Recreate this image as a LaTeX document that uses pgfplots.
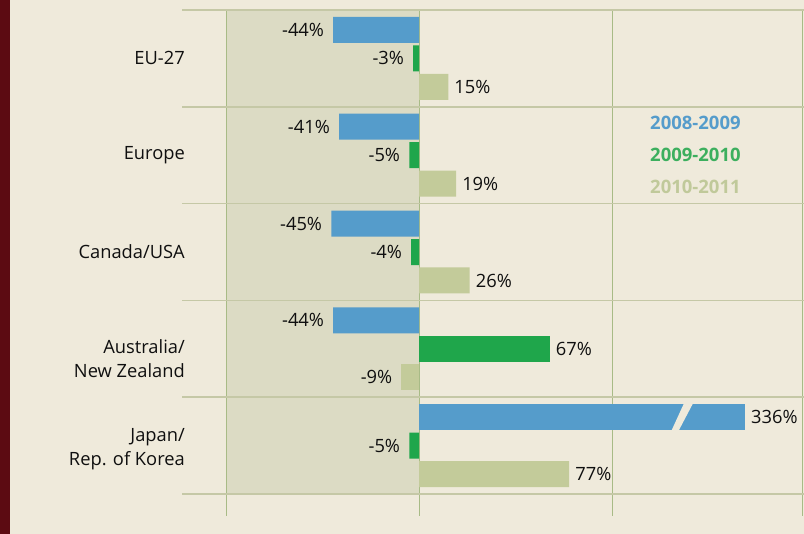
\documentclass[border=0pt]{standalone}
\usepackage{fontspec}
\setmainfont{Open Sans}
\usepackage{pgfplots}
\pgfplotsset{compat=1.18}
\definecolor{bg}{HTML}{EFEADB}
\definecolor{strip}{HTML}{5C0B12}
\definecolor{shade}{HTML}{DCDBC4}
\definecolor{vgrid}{HTML}{A8BB86}
\definecolor{hgrid}{HTML}{C5C8A6}
\definecolor{cblue}{HTML}{559CCB}
\definecolor{cgreen}{HTML}{1FA64B}
\definecolor{ctan}{HTML}{C3CB9A}
\definecolor{lgreen}{HTML}{3CAF5E}
\definecolor{ltan}{HTML}{C0C99A}
\definecolor{txt}{HTML}{0F0F0F}
\pgfplotsset{
  layers/mylayers/.define layer set={
    picbg,axis background,axis grid,axis ticks,axis lines,axis tick labels,main,axis descriptions,axis foreground
  }{},
  neg/.style={xbar, bar shift=0pt, bar width=26pt, draw=none, every node near coord/.append style={anchor=east, inner xsep=9pt}},
  pos/.style={xbar, bar shift=0pt, bar width=26pt, draw=none, every node near coord/.append style={anchor=west, inner xsep=6pt}},
}
\begin{document}
\begin{tikzpicture}
\begin{axis}[
  set layers=mylayers,
  at={(182pt,18pt)}, anchor=south west,
  scale only axis, width=622pt, height=506pt,
  xmin=-121.54, xmax=197.44,
  ymin=-0.5, ymax=4.727, y dir=reverse,
  axis line style={draw=none},
  tick style={draw=none},
  xtick={-98.5,0,99,196.4}, xticklabels={},
  xmajorgrids, major grid style={vgrid, line width=0.9pt},
  ytick={0,1,2,3.1,4.04},
  yticklabels={EU-27, Europe, Canada/USA, {Australia/\\New Zealand}, {Japan/\\Rep. of Korea}},
  yticklabel style={align=right, font=\fontsize{18.3}{24}\selectfont, text=txt, inner sep=0pt, xshift=3pt},
  extra y ticks={-0.5,0.5,1.5,2.5,3.5,4.5},
  extra y tick labels={},
  extra y tick style={ymajorgrids, major grid style={hgrid, line width=1.6pt}, tick style={draw=none}},
  nodes near coords,
  point meta=explicit symbolic,
  every node near coord/.append style={font=\fontsize{18.3}{20}\selectfont, text=txt, inner ysep=0pt},
  clip=false,
]
\addplot[fill=shade, draw=none, on layer=axis background, nodes near coords={}] coordinates {(-98.5,-0.5) (0,-0.5) (0,4.5) (-98.5,4.5)} -- cycle;
% 2008-2009
\addplot[neg, fill=cblue] coordinates {
  (-44,-0.294) [-44\%]
  (-41,0.706) [-41\%]
  (-45,1.706) [-45\%]
  (-44,2.706) [-44\%]
};
\addplot[pos, fill=cblue] coordinates {
  (167.2,3.706) [336\%]
};
% 2009-2010
\addplot[neg, fill=cgreen] coordinates {
  (-3,0) [-3\%]
  (-5,1) [-5\%]
  (-4,2) [-4\%]
  (-5,4) [-5\%]
};
\addplot[pos, fill=cgreen] coordinates {
  (67,3) [67\%]
};
% 2010-2011
\addplot[pos, fill=ctan] coordinates {
  (15,0.294) [15\%]
  (19,1.294) [19\%]
  (26,2.294) [26\%]
  (77,4.294) [77\%]
};
\addplot[neg, fill=ctan] coordinates {
  (-9,3.294) [-9\%]
};
\fill[bg] (axis cs:136.3,3.545) -- (axis cs:141,3.545) -- (axis cs:132.4,3.875) -- (axis cs:128.8,3.875) -- cycle;
\end{axis}
\begin{pgfonlayer}{picbg}
\fill[bg] (0pt,0pt) rectangle (804pt,534pt);
\fill[strip] (0pt,0pt) rectangle (10pt,534pt);
\end{pgfonlayer}
\node[anchor=west, inner sep=0pt, text=cblue, font=\fontsize{18.5}{20}\selectfont\bfseries] at (650pt,411pt) {2008-2009};
\node[anchor=west, inner sep=0pt, text=lgreen, font=\fontsize{18.5}{20}\selectfont\bfseries] at (650pt,379pt) {2009-2010};
\node[anchor=west, inner sep=0pt, text=ltan, font=\fontsize{18.5}{20}\selectfont\bfseries] at (650pt,347pt) {2010-2011};
\pgfresetboundingbox
\path (0pt,0pt) rectangle (804pt,534pt);
\end{tikzpicture}
\end{document}
